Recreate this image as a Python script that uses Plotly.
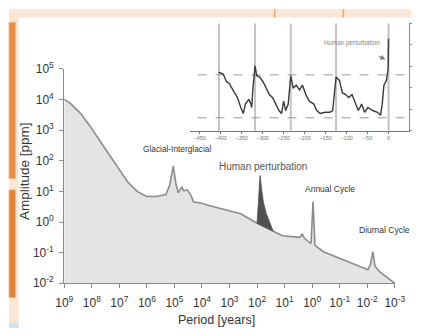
import plotly.graph_objects as go

# ---- main spectrum (period in years, amplitude in ppm) ----
period = [1.0e9, 5.75e8, 2.57e8, 1.17e8, 5.25e7, 2.4e7, 1.07e7, 4.9e6, 2.19e6, 1.0e6,
          4.57e5, 2.04e5, 1.48e5, 1.1e5, 8.7e4, 7.2e4, 5.4e4, 4.6e4, 3.4e4, 2.6e4,
          2.0e4, 1.1e4, 5.2e3, 390, 100, 26, 12, 2.8, 2.3, 1.9,
          1.1, 0.93, 0.79, 0.39, 9.5e-3, 7.6e-3, 6.3e-3, 5.2e-3, 3.5e-3, 1.0e-3]
amplitude = [1.02e4, 7.2e3, 3.55e3, 1.38e3, 468, 162, 55, 20, 9.8, 6.8,
             6.8, 7.9, 16.2, 68, 16.2, 9.1, 14.1, 10.5, 11.2, 7.9,
             4.5, 4.2, 3.4, 1.86, 0.91, 0.50, 0.355, 0.316, 0.40, 0.295,
             0.195, 4.7, 0.174, 0.107, 0.0275, 0.042, 0.107, 0.036, 0.0234, 0.01]

# human perturbation spike (dark area)
human_period = [100, 89, 78, 68, 59, 46, 35, 26, 50, 100]
human_amp = [0.91, 5.5, 33, 11.2, 4.4, 1.86, 1.05, 0.50, 0.67, 0.91]

x_tick_vals = [1e9, 1e8, 1e7, 1e6, 1e5, 1e4, 1e3, 1e2, 1e1, 1e0, 1e-1, 1e-2, 1e-3]
x_tick_text = ["10<sup>9</sup>", "10<sup>8</sup>", "10<sup>7</sup>", "10<sup>6</sup>",
               "10<sup>5</sup>", "10<sup>4</sup>", "10<sup>3</sup>", "10<sup>2</sup>",
               "10<sup>1</sup>", "10<sup>0</sup>", "10<sup>-1</sup>", "10<sup>-2</sup>",
               "10<sup>-3</sup>"]
y_tick_vals = [1e-2, 1e-1, 1e0, 1e1, 1e2, 1e3, 1e4, 1e5]
y_tick_text = ["10<sup>-2</sup>", "10<sup>-1</sup>", "10<sup>0</sup>", "10<sup>1</sup>",
               "10<sup>2</sup>", "10<sup>3</sup>", "10<sup>4</sup>", "10<sup>5</sup>"]

# ---- inset: ice-core CO2 record (kyr, ppm) ----
co2_age = [-405, -394, -386, -379, -375, -367, -360, -352, -346, -341,
           -333, -328, -326, -323, -318, -314, -307, -299, -292, -284,
           -276, -269, -261, -255, -250, -245, -239, -233, -227, -220,
           -212, -205, -197, -189, -178, -171, -163, -151, -140, -133,
           -125, -117, -110, -102, -95, -87, -80, -72, -64, -57,
           -49, -38, -26, -19, -15, -11, -5, -1, 0]
co2_ppm = [286, 282, 264, 260, 252, 238, 227, 204, 190, 212,
           223, 212, 204, 249, 301, 278, 275, 264, 249, 234,
           227, 212, 197, 190, 219, 197, 212, 278, 249, 256,
           245, 256, 234, 219, 212, 197, 190, 193, 193, 197,
           275, 267, 238, 234, 227, 234, 216, 197, 212, 193,
           204, 197, 193, 186, 212, 256, 267, 293, 364]
interglacials = [-404, -318, -233, -125, 0]
ref_levels = [280, 180]
inset_ticks = [-450, -400, -350, -300, -250, -200, -150, -100, -50, 0, 50]

FONT = "Liberation Sans, Arial, Helvetica, sans-serif"
AX = "#8a8a8a"

fig = go.Figure()

# main light fill
fig.add_trace(go.Scatter(
    x=period + [1e-3, 1e9], y=amplitude + [1e-2, 1e-2],
    mode="lines", fill="toself", fillcolor="#e4e4e4",
    line=dict(width=0, color="rgba(0,0,0,0)"), hoverinfo="skip", showlegend=False))
# outline
fig.add_trace(go.Scatter(
    x=period, y=amplitude, mode="lines",
    line=dict(color="#8c8c8c", width=1.6), showlegend=False))
# human perturbation
fig.add_trace(go.Scatter(
    x=human_period, y=human_amp, mode="lines", fill="toself",
    fillcolor="#505050", line=dict(color="#505050", width=0.8), showlegend=False))

# inset CO2 record
fig.add_trace(go.Scatter(
    x=co2_age, y=co2_ppm, xaxis="x2", yaxis="y2", mode="lines",
    line=dict(color="#3a3a3a", width=1.4), showlegend=False))

shapes = []
# page background pieces
shapes.append(dict(type="rect", xref="paper", yref="paper", x0=0, x1=1, y0=0, y1=1,
                   fillcolor="#fce6d6", line=dict(width=0), layer="below"))
shapes.append(dict(type="rect", xref="paper", yref="paper", x0=10/422, x1=1, y0=0, y1=1-9/335,
                   fillcolor="white", line=dict(width=0), layer="below"))
shapes.append(dict(type="rect", xref="paper", yref="paper", x0=0, x1=7/422,
                   y0=1-178/335, y1=1-14/335, fillcolor="#e58c48",
                   line=dict(width=1, color="#f2b888"), layer="below"))
shapes.append(dict(type="rect", xref="paper", yref="paper", x0=0, x1=7/422,
                   y0=1-303/335, y1=1-190/335, fillcolor="#e0843c",
                   line=dict(width=1, color="#f2b888"), layer="below"))
shapes.append(dict(type="rect", xref="paper", yref="paper", x0=0, x1=10/422,
                   y0=0, y1=5/335, fillcolor="#cfe3f2", line=dict(width=0), layer="below"))
for px in (279, 351):
    shapes.append(dict(type="line", xref="paper", yref="paper", x0=px/422, x1=px/422,
                       y0=1-9/335, y1=1, line=dict(color="#f0a766", width=1.5), layer="below"))
# inset vertical interglacial lines
for a in interglacials:
    shapes.append(dict(type="line", xref="x2", yref="y2", x0=a, x1=a, y0=150, y1=400,
                       line=dict(color="#c4c4c4", width=2), layer="below"))
# inset dashed reference levels
for lv in ref_levels:
    shapes.append(dict(type="line", xref="x2", yref="y2", x0=-455, x1=49, y0=lv, y1=lv,
                       line=dict(color="#9a9a9a", width=1, dash="dash"), layer="below"))


def note(text, px, py, size, color="#333333", angle=0):
    return dict(text=text, x=px/422, y=1-py/335, xref="paper", yref="paper",
                xanchor="center", yanchor="middle", showarrow=False, textangle=angle,
                font=dict(family=FONT, size=size, color=color))


annotations = [
    note("Glacial-Interglacial", 176, 147, 8.3),
    note("Human perturbation", 267, 165, 10, "#555555"),
    note("Annual Cycle", 337, 189, 8.5),
    note("Diurnal Cycle", 394, 232, 8.5),
    note("Period [years]", 218, 327, 12.5),
    note("Amplitude [ppm]", 17, 170, 13.5, angle=-90),
    note("Human perturbation", 360, 36, 6.3, "#888888"),
    dict(text="", x=395/422, y=1-53/335, xref="paper", yref="paper",
         ax=-8, ay=-4, axref="pixel", ayref="pixel",
         showarrow=True, arrowhead=2, arrowsize=1, arrowwidth=1, arrowcolor="#777777"),
]

fig.update_layout(
    width=422, height=335, autosize=False,
    margin=dict(l=0, r=0, t=0, b=0),
    paper_bgcolor="white", plot_bgcolor="rgba(0,0,0,0)",
    font=dict(family=FONT, color="#333333"),
    showlegend=False,
    shapes=shapes, annotations=annotations,
    xaxis=dict(type="log", range=[9, -3], domain=[58/422, 405/422], anchor="y",
               tickvals=x_tick_vals, ticktext=x_tick_text,
               showline=True, linecolor=AX, linewidth=1.2, ticks="outside", ticklen=4,
               tickcolor=AX, showgrid=False, zeroline=False,
               tickfont=dict(family=FONT, size=12, color="#333333"),
               ticklabelstandoff=4),
    yaxis=dict(type="log", range=[-2, 5], domain=[1-288/335, 1-63/335], anchor="x",
               tickvals=y_tick_vals, ticktext=y_tick_text,
               showline=True, linecolor=AX, linewidth=1.2, ticks="outside", ticklen=4,
               tickcolor=AX, showgrid=False, zeroline=False,
               tickfont=dict(family=FONT, size=12, color="#333333"),
               ticklabelstandoff=3),
    xaxis2=dict(range=[-473, 49], domain=[190/422, 420/422], anchor="y2",
                tickvals=inset_ticks, showline=True, linecolor="#777777", linewidth=1,
                ticks="outside", ticklen=2, tickcolor="#777777", showgrid=False,
                zeroline=False, tickfont=dict(family=FONT, size=5.5, color="#777777"),
                ticklabelstandoff=0),
    yaxis2=dict(range=[149.6, 400], domain=[1-128/335, 1-15/335], anchor="x2",
                side="right", showline=True, linecolor="#888888", linewidth=1,
                ticks="outside", ticklen=2, tickcolor="#888888", showgrid=False,
                zeroline=False, showticklabels=False, tickvals=[150, 200, 250, 300, 350, 400]),
)

fig.write_html(
    "out.html",
    config={"displayModeBar": False, "responsive": False},
    post_script=(
        "var s=document.createElement('style');"
        "s.innerHTML='html,body{margin:0 !important;padding:0 !important;overflow:hidden !important;}';"
        "document.head.appendChild(s);"
    ),
)
